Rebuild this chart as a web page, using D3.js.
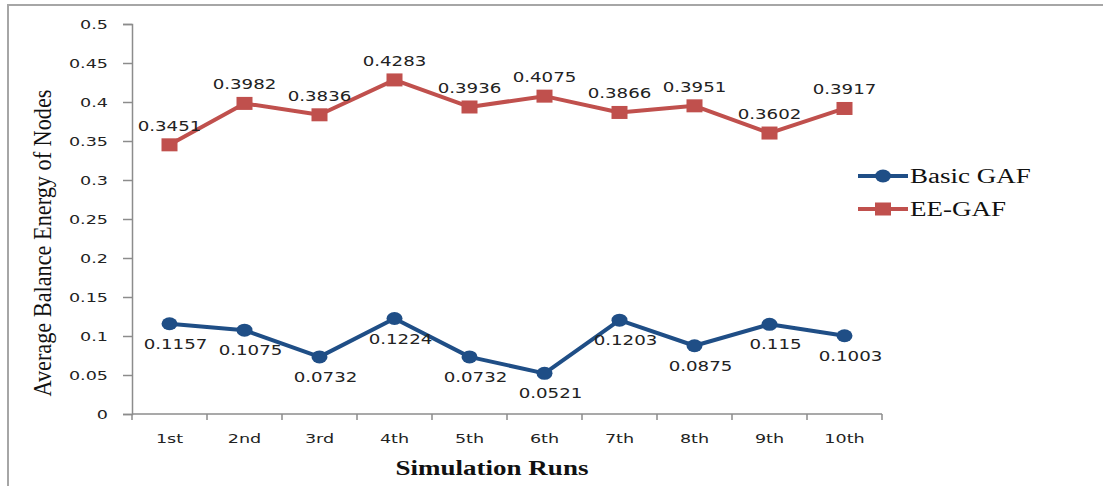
<!DOCTYPE html>
<html>
<head>
<meta charset="utf-8">
<script src="https://cdn.jsdelivr.net/npm/d3@7"></script>
<style>
  body { margin: 0; background: #fff; }
  svg { display: block; }
</style>
</head>
<body>
<div id="chart"></div>
<script>
const runs = ['1st', '2nd', '3rd', '4th', '5th', '6th', '7th', '8th', '9th', '10th'];
const basicGAF = [0.1157, 0.1075, 0.0732, 0.1224, 0.0732, 0.0521, 0.1203, 0.0875, 0.115, 0.1003];
const eeGAF = [0.3451, 0.3982, 0.3836, 0.4283, 0.3936, 0.4075, 0.3866, 0.3951, 0.3602, 0.3917];
const yTicks = [0, 0.05, 0.1, 0.15, 0.2, 0.25, 0.3, 0.35, 0.4, 0.45, 0.5];
const seriesNames = ['Basic GAF', 'EE-GAF'];

const W = 1103, H = 486;
const blue = '#1f4e86', red = '#c0504d';
const stretchK = 1.35; // the source picture is wider than it is tall

const svg = d3.select('#chart').append('svg')
  .attr('width', W).attr('height', H);

// outer frame
svg.append('rect')
  .attr('x', 8).attr('y', 5)
  .attr('width', 1200).attr('height', 600)
  .attr('fill', 'none').attr('stroke', '#a6a6a6').attr('stroke-width', 2);

const x = d3.scaleBand().domain(runs).range([132, 882]);
const y = d3.scaleLinear().domain([0, 0.5]).range([414, 24]);
const cx = d => x(d) + x.bandwidth() / 2;

function stretch(sel, k) {
  sel.each(function () {
    const len = this.getComputedTextLength();
    d3.select(this).attr('textLength', len * k).attr('lengthAdjust', 'spacingAndGlyphs');
  });
}

// Y axis
const yAxis = svg.append('g')
  .attr('transform', 'translate(132,0)')
  .call(d3.axisLeft(y).tickValues(yTicks).tickSize(9).tickPadding(15).tickFormat(d => String(d)));
yAxis.selectAll('line, path').attr('stroke', '#8c8c8c').attr('stroke-width', 1.5);
yAxis.selectAll('text')
  .attr('font-family', 'DejaVu Sans, sans-serif').attr('font-size', 13).attr('fill', '#222');
stretch(yAxis.selectAll('text'), stretchK);

// X axis with ticks on band edges
const xAxis = svg.append('g').attr('transform', 'translate(0,414)');
xAxis.append('line')
  .attr('x1', 132).attr('x2', 882)
  .attr('stroke', '#8c8c8c').attr('stroke-width', 1.5);
const edges = runs.map(r => x(r)).concat([x.range()[1]]);
xAxis.selectAll('.xt').data(edges).enter().append('line')
  .attr('x1', d => d).attr('x2', d => d).attr('y1', 0).attr('y2', 6)
  .attr('stroke', '#8c8c8c').attr('stroke-width', 1.5);
const xLabels = xAxis.selectAll('.xl').data(runs).enter().append('text')
  .attr('x', cx).attr('y', 29)
  .attr('text-anchor', 'middle')
  .attr('font-family', 'DejaVu Sans, sans-serif').attr('font-size', 13).attr('fill', '#222')
  .text(d => d);
stretch(xLabels, stretchK);

// Axis titles
const xTitle = svg.append('text')
  .attr('x', 492).attr('y', 475).attr('text-anchor', 'middle')
  .attr('font-family', 'Liberation Serif, Times New Roman, serif')
  .attr('font-weight', 'bold').attr('font-size', 20).attr('fill', '#111')
  .text('Simulation Runs');
stretch(xTitle, stretchK);

svg.append('text')
  .attr('transform', 'translate(51,243) rotate(-90)')
  .attr('text-anchor', 'middle')
  .attr('font-family', 'Liberation Serif, Times New Roman, serif')
  .attr('font-size', 25).attr('fill', '#111')
  .attr('textLength', 307).attr('lengthAdjust', 'spacingAndGlyphs')
  .text('Average Balance Energy of Nodes');

// Lines
const line = d3.line().x((d, i) => cx(runs[i])).y(d => y(d));
svg.append('path').datum(basicGAF)
  .attr('d', line).attr('fill', 'none')
  .attr('stroke', blue).attr('stroke-width', 4).attr('stroke-linejoin', 'round');
svg.append('path').datum(eeGAF)
  .attr('d', line).attr('fill', 'none')
  .attr('stroke', red).attr('stroke-width', 4).attr('stroke-linejoin', 'round');

// Markers
svg.selectAll('.bm').data(basicGAF).enter().append('ellipse')
  .attr('cx', (d, i) => cx(runs[i])).attr('cy', d => y(d))
  .attr('rx', 8).attr('ry', 6.5).attr('fill', blue);
svg.selectAll('.rm').data(eeGAF).enter().append('rect')
  .attr('x', (d, i) => cx(runs[i]) - 8).attr('y', d => y(d) - 6.5)
  .attr('width', 16).attr('height', 13).attr('fill', red);

// Data labels
const blueLabels = svg.selectAll('.bl').data(basicGAF).enter().append('text')
  .attr('x', (d, i) => cx(runs[i]) + 6).attr('y', d => y(d) + 25)
  .attr('text-anchor', 'middle')
  .attr('font-family', 'DejaVu Sans, sans-serif').attr('font-size', 14).attr('fill', '#222')
  .text(d => String(d));
stretch(blueLabels, 1.3);

const redLabels = svg.selectAll('.rl').data(eeGAF).enter().append('text')
  .attr('x', (d, i) => cx(runs[i])).attr('y', d => y(d) - 14)
  .attr('text-anchor', 'middle')
  .attr('font-family', 'DejaVu Sans, sans-serif').attr('font-size', 14).attr('fill', '#222')
  .text(d => String(d));
stretch(redLabels, 1.3);

// Legend
const legend = svg.append('g');
const legendColors = [blue, red];
seriesNames.forEach((name, i) => {
  const ly = 176 + i * 33;
  legend.append('line')
    .attr('x1', 858).attr('x2', 908).attr('y1', ly).attr('y2', ly)
    .attr('stroke', legendColors[i]).attr('stroke-width', 4);
  if (i === 0) {
    legend.append('ellipse').attr('cx', 883).attr('cy', ly).attr('rx', 8).attr('ry', 6.5).attr('fill', blue);
  } else {
    legend.append('rect').attr('x', 875).attr('y', ly - 6.5).attr('width', 16).attr('height', 13).attr('fill', red);
  }
  const t = legend.append('text')
    .attr('x', 910).attr('y', ly + 7)
    .attr('font-family', 'Liberation Serif, Times New Roman, serif')
    .attr('font-size', 20).attr('fill', '#111')
    .text(name);
  stretch(t, stretchK);
});
</script>
</body>
</html>
